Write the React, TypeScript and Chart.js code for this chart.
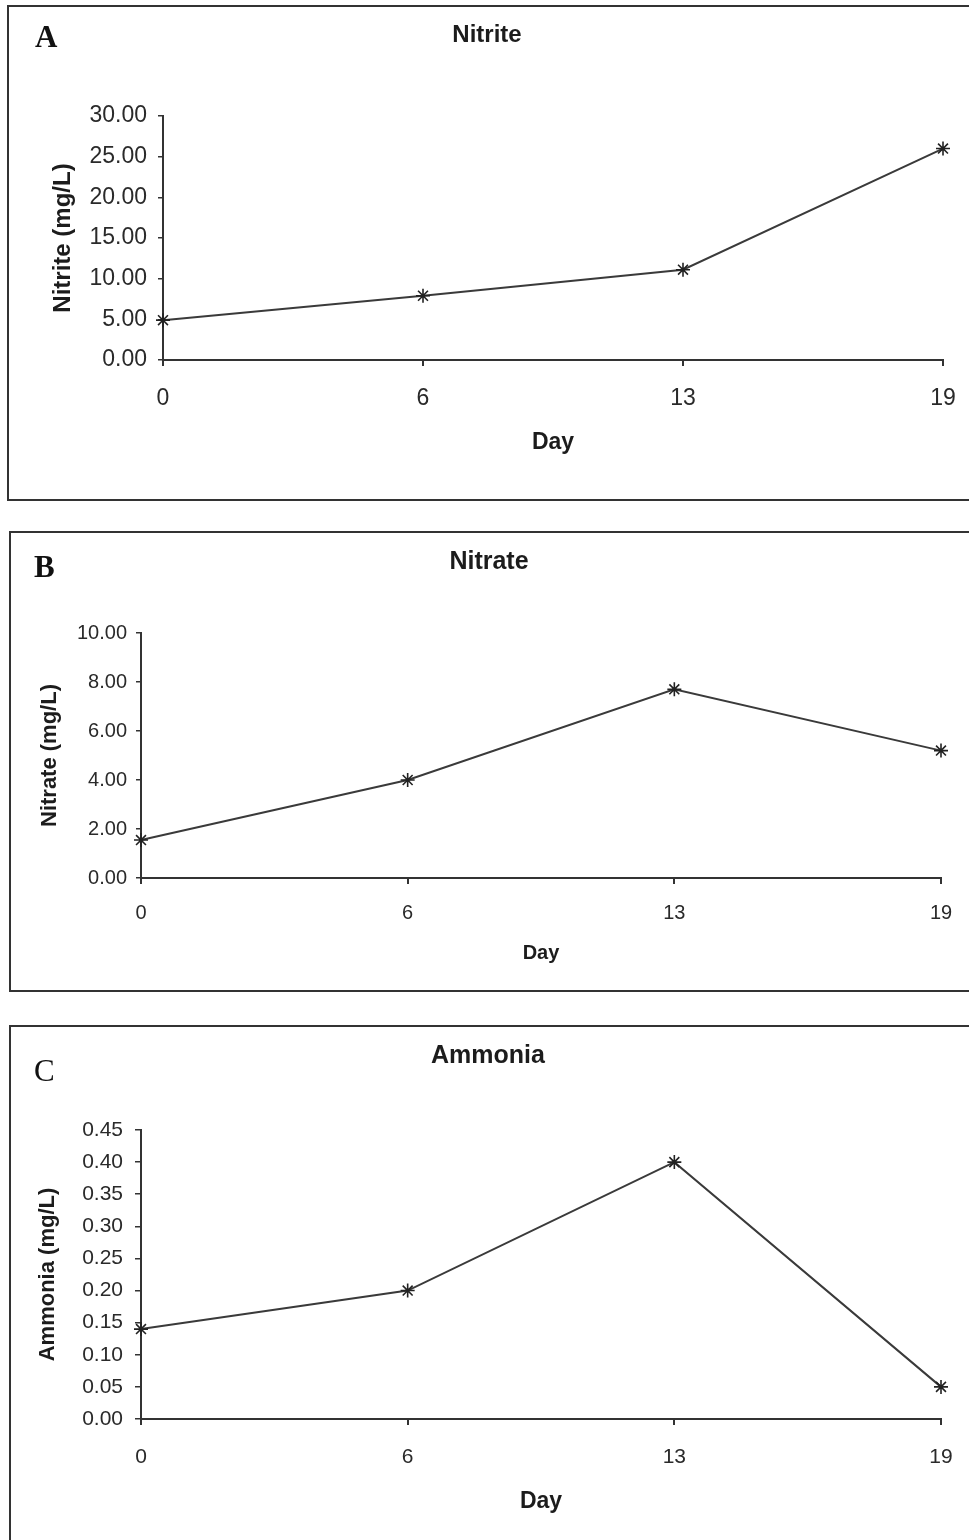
import React, { useEffect, useRef } from "react";
import { Chart, registerables } from "chart.js";

Chart.register(...registerables);

// ---- data ----
const days = ["0", "6", "13", "19"];
const nitrite = [4.9, 7.9, 11.1, 26.0];
const nitrate = [1.55, 4.0, 7.7, 5.2];
const ammonia = [0.14, 0.2, 0.4, 0.05];

const nitriteAxis = { min: 0, max: 30, step: 5 };
const nitrateAxis = { min: 0, max: 10, step: 2 };
const ammoniaAxis = { min: 0, max: 0.45, step: 0.05 };

const titles = ["Nitrite", "Nitrate", "Ammonia"];
const yTitles = ["Nitrite (mg/L)", "Nitrate (mg/L)", "Ammonia (mg/L)"];
const xTitle = "Day";
const letters = ["A", "B", "C"];

const SANS = "'Liberation Sans', Arial, Helvetica, sans-serif";
const INK = "#1c1c1c";
const LINE = "#3a3a3a";

type PanelCfg = {
  top: number;
  height: number;
  padL: number;
  padR: number;
  yWidth: number;
  xHeight: number;
  titleSize: number;
  titlePadTop: number;
  titlePadBottom: number;
  yTitleSize: number;
  yTitlePad: number;
  yTickSize: number;
  yTickPad: number;
  yTickLen: number;
  xTickSize: number;
  xTickPad: number;
  xTitleSize: number;
  xTitleWeight: string;
  xTitlePadBottom: number;
};

function LinePanel(props: {
  cfg: PanelCfg;
  values: number[];
  axis: { min: number; max: number; step: number };
  title: string;
  yTitle: string;
}) {
  const ref = useRef<HTMLCanvasElement | null>(null);
  const { cfg, values, axis, title, yTitle } = props;
  useEffect(() => {
    if (!ref.current) return;
    const chart = new Chart(ref.current, {
      type: "line",
      data: {
        labels: days,
        datasets: [
          {
            data: values,
            borderColor: LINE,
            borderWidth: 2,
            tension: 0,
            pointStyle: "star",
            pointRadius: 7,
            pointBorderColor: "#222",
            pointBackgroundColor: "#222",
            pointBorderWidth: 1.6,
            clip: false,
          } as any,
        ],
      },
      options: {
        responsive: false,
        animation: false,
        events: [],
        layout: { padding: { left: cfg.padL, right: cfg.padR, top: 0, bottom: 0 } },
        plugins: {
          legend: { display: false },
          tooltip: { enabled: false },
          title: {
            display: true,
            text: title,
            color: INK,
            font: { family: SANS, size: cfg.titleSize, weight: "bold" },
            padding: { top: cfg.titlePadTop, bottom: cfg.titlePadBottom },
          },
        },
        scales: {
          x: {
            type: "category",
            offset: false,
            grid: {
              display: true,
              drawOnChartArea: false,
              drawTicks: true,
              tickLength: 6,
              color: "#333",
              lineWidth: 2,
            },
            border: { display: true, color: "#333", width: 2 },
            ticks: {
              color: "#2a2a2a",
              font: { family: SANS, size: cfg.xTickSize },
              padding: cfg.xTickPad,
              maxRotation: 0,
              autoSkip: false,
            },
            title: {
              display: true,
              text: xTitle,
              color: INK,
              font: { family: SANS, size: cfg.xTitleSize, weight: cfg.xTitleWeight as any },
              padding: { top: 0, bottom: cfg.xTitlePadBottom },
            },
            afterFit: (s: any) => {
              s.height = cfg.xHeight;
              s.paddingLeft = 0;
              s.paddingRight = 0;
            },
          },
          y: {
            min: axis.min,
            max: axis.max,
            grid: {
              display: true,
              drawOnChartArea: false,
              drawTicks: true,
              tickLength: cfg.yTickLen,
              color: "#333",
              lineWidth: 1.5,
            },
            border: { display: true, color: "#333", width: 2 },
            ticks: {
              stepSize: axis.step,
              color: "#2a2a2a",
              font: { family: SANS, size: cfg.yTickSize },
              padding: cfg.yTickPad,
              callback: (v: any) => Number(v).toFixed(2),
            },
            title: {
              display: true,
              text: yTitle,
              color: INK,
              font: { family: SANS, size: cfg.yTitleSize, weight: "bold" },
              padding: { top: cfg.yTitlePad, bottom: 0 },
            },
            afterFit: (s: any) => {
              s.width = cfg.yWidth;
              s.paddingTop = 0;
              s.paddingBottom = 0;
            },
          },
        },
      },
    });
    return () => chart.destroy();
  }, []);
  return (
    <canvas
      ref={ref}
      width={969}
      height={cfg.height}
      style={{ position: "absolute", left: 0, top: cfg.top, width: 969, height: cfg.height }}
    />
  );
}

const cfgA: PanelCfg = {
  top: 0,
  height: 505,
  padL: 31,
  padR: 26,
  yWidth: 132,
  xHeight: 145,
  titleSize: 24,
  titlePadTop: 20.6,
  titlePadBottom: 66.6,
  yTitleSize: 24,
  yTitlePad: 17.6,
  yTickSize: 23,
  yTickPad: 11,
  yTickLen: 5,
  xTickSize: 23,
  xTickPad: 19,
  xTitleSize: 23,
  xTitleWeight: "bold",
  xTitlePadBottom: 49,
};

const cfgB: PanelCfg = {
  top: 510,
  height: 490,
  padL: 37,
  padR: 28,
  yWidth: 104,
  xHeight: 122,
  titleSize: 25,
  titlePadTop: 37,
  titlePadBottom: 56,
  yTitleSize: 22,
  yTitlePad: 0,
  yTickSize: 20,
  yTickPad: 9,
  yTickLen: 5,
  xTickSize: 20,
  xTickPad: 17,
  xTitleSize: 20,
  xTitleWeight: "bold",
  xTitlePadBottom: 35,
};

const cfgC: PanelCfg = {
  top: 1005,
  height: 535,
  padL: 35,
  padR: 28,
  yWidth: 106,
  xHeight: 121,
  titleSize: 25,
  titlePadTop: 36,
  titlePadBottom: 59,
  yTitleSize: 22,
  yTitlePad: 0,
  yTickSize: 21,
  yTickPad: 12,
  yTickLen: 6,
  xTickSize: 21,
  xTickPad: 20,
  xTitleSize: 23,
  xTitleWeight: "bold",
  xTitlePadBottom: 25,
};

const boxes = [
  { left: 7, top: 5, height: 496, bottom: true },
  { left: 9, top: 531, height: 461, bottom: true },
  { left: 9, top: 1025, height: 530, bottom: false },
];

const letterPos = [
  { left: 35, top: 21, weight: "bold" },
  { left: 34, top: 551, weight: "bold" },
  { left: 34, top: 1055, weight: "normal" },
];

export default function App() {
  return (
    <div
      style={{
        position: "absolute",
        left: 0,
        top: 0,
        width: 969,
        height: 1540,
        overflow: "hidden",
        background: "#fff",
      }}
    >
      {boxes.map((b, i) => (
        <div
          key={"box" + i}
          style={{
            position: "absolute",
            left: b.left,
            top: b.top,
            width: 969 - b.left + 10,
            height: b.height,
            boxSizing: "border-box",
            borderTop: "2px solid #333",
            borderLeft: "2px solid #333",
            borderBottom: b.bottom ? "2px solid #333" : "none",
          }}
        />
      ))}
      <LinePanel cfg={cfgA} values={nitrite} axis={nitriteAxis} title={titles[0]} yTitle={yTitles[0]} />
      <LinePanel cfg={cfgB} values={nitrate} axis={nitrateAxis} title={titles[1]} yTitle={yTitles[1]} />
      <LinePanel cfg={cfgC} values={ammonia} axis={ammoniaAxis} title={titles[2]} yTitle={yTitles[2]} />
      {letters.map((l, i) => (
        <div
          key={"l" + i}
          style={{
            position: "absolute",
            left: letterPos[i].left,
            top: letterPos[i].top,
            fontFamily: "'Liberation Serif', 'Times New Roman', serif",
            fontWeight: letterPos[i].weight as any,
            fontSize: 31,
            lineHeight: "31px",
            color: "#111",
          }}
        >
          {l}
        </div>
      ))}
    </div>
  );
}
